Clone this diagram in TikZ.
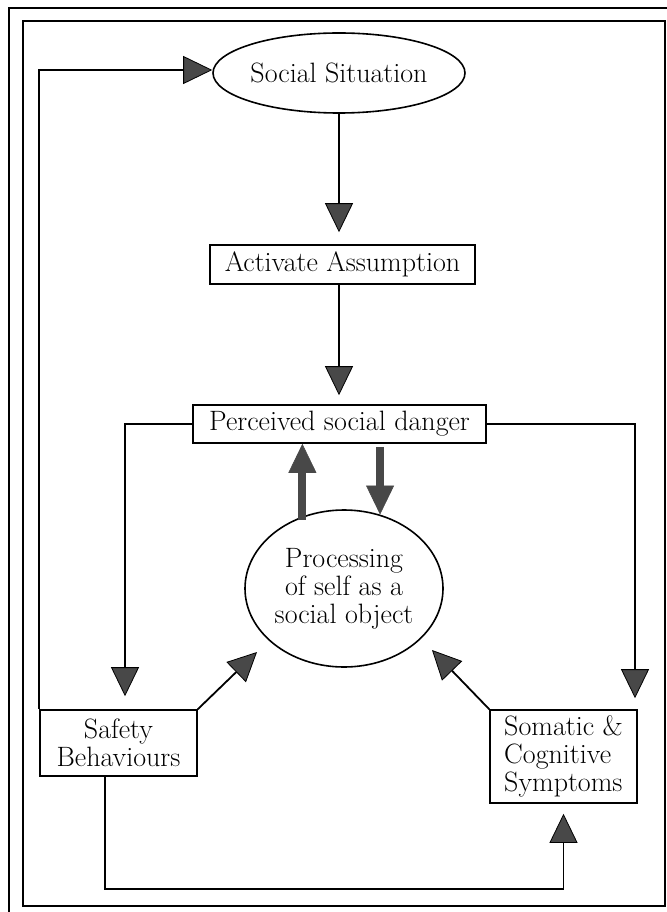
\documentclass[tikz,border=0pt]{standalone}
\usetikzlibrary{arrows.meta,shapes.geometric}
\definecolor{tipgray}{RGB}{72,72,72}
\tikzset{
  conn/.style={line width=1.8pt, -{Triangle[length=29pt,width=28pt,line width=0.8pt,fill=tipgray]}},
  bigconn/.style={line width=8pt, draw=tipgray, -{Triangle[length=29pt,width=28pt,line width=0.6pt,fill=tipgray]}},
  boxnode/.style={draw, line width=1.6pt, rectangle, inner sep=0pt, align=center,
    font=\fontsize{28}{28}\selectfont},
  ovalnode/.style={draw, line width=1.6pt, ellipse, inner sep=0pt, align=center,
    font=\fontsize{28}{28}\selectfont}
}
\begin{document}
\begin{tikzpicture}[x=1pt,y=-1pt]
\useasboundingbox (0,0) rectangle (666,912);
% double frame (outer one runs off the right and bottom edges)
\draw[line width=2.6pt] (9,920) -- (9,8) -- (680,8);
\draw[line width=2pt] (23,21) rectangle (665,906);

% nodes
\node[ovalnode, minimum width=252pt, minimum height=80pt] (sit) at (339,73) {Social Situation};
\node[boxnode, minimum width=265pt, minimum height=39pt] (act) at (342.5,264.5) {Activate Assumption};
\node[boxnode, minimum width=293pt, minimum height=38pt] (per) at (339.5,424) {Perceived social danger};
\node[ovalnode, minimum width=198pt, minimum height=157pt] (proc) at (344,588.5) {Processing\\of self as a\\social object};
\node[boxnode, minimum width=157pt, minimum height=66pt] (safe) at (118.5,743) {Safety\\Behaviours};
\node[boxnode, minimum width=147pt, minimum height=93pt, align=left] (som) at (563.5,756.5) {Somatic \&\\Cognitive\\Symptoms};

\coordinate (sbTip) at (257,652);
\coordinate (scTip) at (432,650);

% main chain
\draw[conn, shorten >=12pt] (sit.south) -- (sit.south |- act.north);
\draw[conn, shorten >=9pt] (act.south -| sit.south) -- (sit.south |- per.north);

% exchange between danger and self-processing
\draw[bigconn, shorten <=-4pt] (proc.120) -- (proc.120 |- per.south);
\draw[bigconn, shorten <=3pt] (per.south -| proc.64) -- (proc.64);

% branches to behaviours and symptoms
\draw[conn, shorten >=13pt] (per.west) -| ([xshift=6.5pt]safe.north);
\draw[conn, shorten >=11pt] (per.east) -| ([xshift=71.5pt]som.north);

% back into self-processing
\draw[conn] (safe.north east) -- (sbTip);
\draw[conn] (som.north west) -- (scTip);

% loop from behaviours back to the situation
\draw[conn] (safe.north west) |- ([yshift=3pt]sit.west);

% loop from behaviours to symptoms
\draw[conn, shorten >=10pt] ([xshift=-13.5pt]safe.south) -- ++(0,112) -| (som.south);
\end{tikzpicture}
\end{document}
